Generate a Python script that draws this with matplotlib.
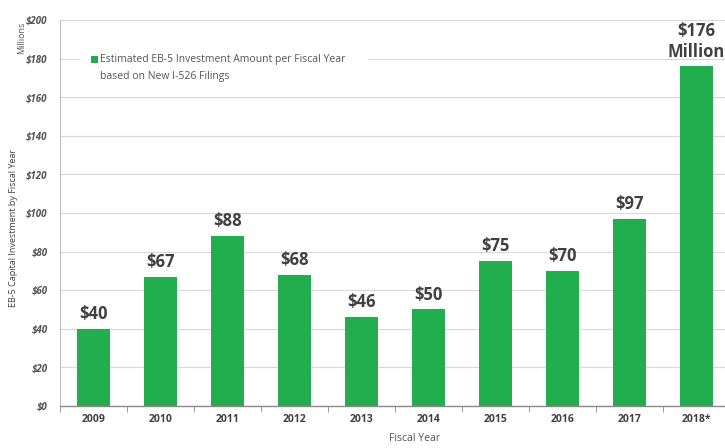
import matplotlib.pyplot as plt
import numpy as np
from matplotlib.patches import Rectangle

years = ["2009", "2010", "2011", "2012", "2013", "2014", "2015", "2016", "2017", "2018*"]
amounts = [40, 67, 88, 68, 46, 50, 75, 70, 97, 176]
bar_labels = ["$40", "$67", "$88", "$68", "$46", "$50", "$75", "$70", "$97", "$176\nMillion"]
y_ticks = [0, 20, 40, 60, 80, 100, 120, 140, 160, 180, 200]

GREEN = "#22AD4E"
DARK = "#404040"

plt.rcParams["font.family"] = ["Open Sans", "DejaVu Sans"]

fig = plt.figure(figsize=(7.25, 4.48), dpi=100)
ax = fig.add_axes([0.0828, 0.094, 0.924, 0.861])

x = np.arange(len(years))
ax.bar(x, amounts, width=0.49, color=GREEN, zorder=3)

for xi, v, lab in zip(x, amounts, bar_labels):
    ax.text(xi, v + 3, lab, ha="center", va="bottom", fontsize=12,
            fontweight="bold", color=DARK, linespacing=1.2, zorder=4)

ax.set_xlim(-0.5, 9.5)
ax.set_ylim(0, 200)
ax.set_yticks(y_ticks)
ax.set_yticklabels([f"${t}" for t in y_ticks], fontsize=7, fontweight="bold",
                   fontstyle="italic", color="#555555")
ax.set_xticks(x)
ax.set_xticklabels(years, fontsize=7.5, fontweight="bold", color=DARK)
ax.tick_params(axis="x", length=0, pad=6)
ax.tick_params(axis="y", length=0, pad=9)
ax.set_xticks(np.arange(-0.5, 10, 1.0), minor=True)
ax.tick_params(axis="x", which="minor", length=4, color="#8a8a8a", direction="out")

ax.grid(axis="y", color="#d9d9d9", linewidth=0.8, zorder=0)
for s in ["top", "right"]:
    ax.spines[s].set_visible(False)
ax.spines["left"].set_color("#bfbfbf")
ax.spines["bottom"].set_color("#8a8a8a")
ax.spines["bottom"].set_linewidth(1.0)

fig.text(0.572, 0.008, "Fiscal Year", ha="center", va="bottom", fontsize=7.5, color="#555555")
fig.text(0.019, 0.49, "EB-5 Capital Investment by Fiscal Year", rotation=90,
         ha="center", va="center", fontsize=6.5, color=DARK)
fig.text(0.030, 0.915, "Millions", rotation=90, ha="center", va="center",
         fontsize=6.5, color="#555555")

# legend box (white, hides the gridline behind it)
ax.add_patch(Rectangle((0.03, 0.82), 0.43, 0.11, transform=ax.transAxes,
                       facecolor="white", edgecolor="none", zorder=2))
ax.add_patch(Rectangle((0.046, 0.889), 0.010, 0.019, transform=ax.transAxes,
                       facecolor=GREEN, edgecolor="none", zorder=3))
ax.text(0.060, 0.899, "Estimated EB-5 Investment Amount per Fiscal Year",
        transform=ax.transAxes, ha="left", va="center", fontsize=7.5, color="#555555", zorder=3)
ax.text(0.060, 0.855, "based on New I-526 Filings",
        transform=ax.transAxes, ha="left", va="center", fontsize=7.5, color="#555555", zorder=3)

fig.savefig("out.png", dpi=100)
